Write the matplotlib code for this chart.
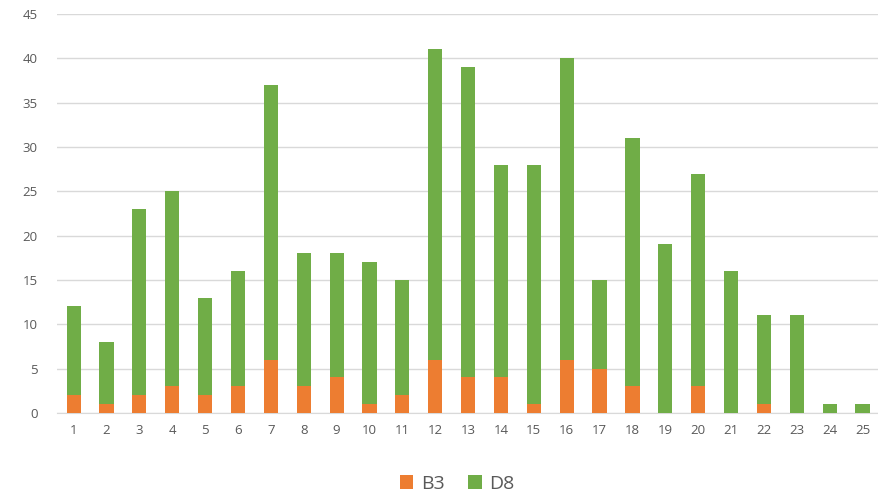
import matplotlib
matplotlib.use("Agg")
import matplotlib.pyplot as plt
import numpy as np

categories = [str(i) for i in range(1, 26)]
totals = [12, 8, 23, 25, 13, 16, 37, 18, 18, 17, 15, 41, 39, 28, 28, 40, 15, 31, 19, 27, 16, 11, 11, 1, 1]
b3 = [2, 1, 2, 3, 2, 3, 6, 3, 4, 1, 2, 6, 4, 4, 1, 6, 5, 3, 0, 3, 0, 1, 0, 0, 0]
d8 = [t - b for t, b in zip(totals, b3)]
yticks = list(range(0, 50, 5))

plt.rcParams['font.family'] = ['Open Sans', 'DejaVu Sans']
fig = plt.figure(figsize=(8.79, 4.98), dpi=100)
ax = fig.add_axes([0.065, 0.171, 0.935, 0.801])
x = np.arange(1, 26)
w = 0.43
ax.bar(x, b3, w, color='#ED7D31', label='B3', zorder=3)
ax.bar(x, d8, w, bottom=b3, color='#70AD47', label='D8', zorder=3)
ax.set_xlim(0.5, 25.5)
ax.set_ylim(0, 45)
ax.set_yticks(yticks)
ax.set_xticks(x)
ax.set_xticklabels(categories)
ax.grid(axis='y', color='#D9D9D9', linewidth=1, zorder=0)
for s in ['top', 'right', 'left']:
    ax.spines[s].set_visible(False)
ax.spines['bottom'].set_color('#D9D9D9')
ax.tick_params(axis='both', length=0, colors='#595959', labelsize=9.5)
ax.tick_params(axis='x', pad=8)
ax.tick_params(axis='y', pad=14)
fig.legend(loc='lower center', bbox_to_anchor=(0.52, -0.025), ncol=2, frameon=False,
           fontsize=14, handlelength=0.7, handleheight=0.7, columnspacing=1.2,
           handletextpad=0.4, labelcolor='#595959')
fig.savefig('out.png', dpi=100)
